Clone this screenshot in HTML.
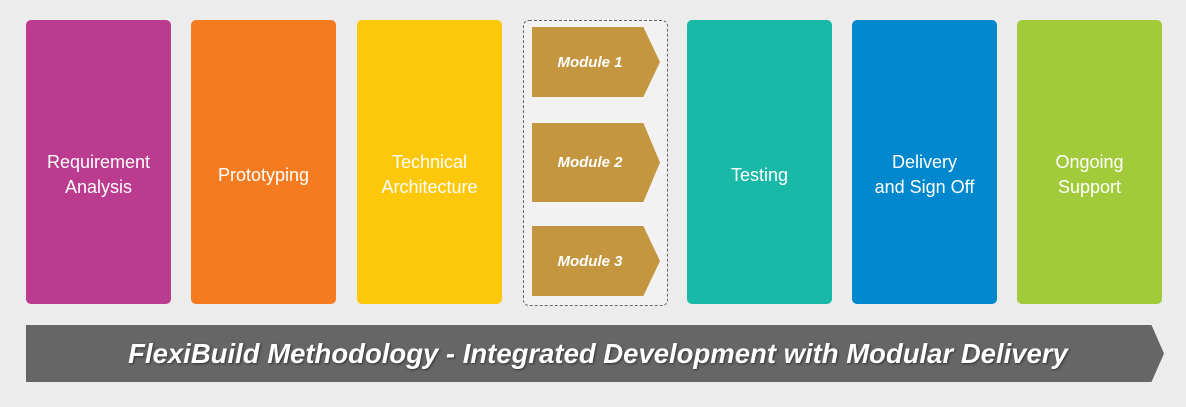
<!DOCTYPE html>
<html><head><style>
body{margin:0;width:1186px;height:407px;background:#ececec;position:relative;overflow:hidden;font-family:"Liberation Sans",sans-serif}
.c{position:absolute;top:20px;height:284px;width:145px;border-radius:5px;color:#fff;font-size:18px;display:flex;align-items:center;justify-content:center;text-align:center;line-height:25px;padding-top:26px;box-sizing:border-box}
.m{position:absolute;left:532px;width:128px;background:#c4963f;clip-path:polygon(0 0,87% 0,100% 50%,87% 100%,0 100%);color:#fff;font-style:italic;font-weight:bold;font-size:15px;display:flex;align-items:center;justify-content:center;padding-right:12px;box-sizing:border-box}
</style></head><body>
<div class="c" style="left:26px;background:#bb3b8e">Requirement<br>Analysis</div>
<div class="c" style="left:191px;background:#f47b20">Prototyping</div>
<div class="c" style="left:357px;background:#fdc70a">Technical<br>Architecture</div>
<div style="position:absolute;left:523px;top:20px;width:145px;height:286px;border:1.5px dashed #666;border-radius:6px;box-sizing:border-box;background:#f2f2f2"></div>
<div class="m" style="top:27px;height:70px">Module 1</div>
<div class="m" style="top:123px;height:79px">Module 2</div>
<div class="m" style="top:226px;height:70px">Module 3</div>
<div class="c" style="left:687px;background:#1ab8a7">Testing</div>
<div class="c" style="left:852px;background:#0088cf">Delivery<br>and Sign Off</div>
<div class="c" style="left:1017px;background:#a1cb3a">Ongoing<br>Support</div>
<div style="position:absolute;left:26px;top:325px;width:1138px;height:57px;background:#666;clip-path:polygon(0 0,98.9% 0,100% 50%,98.9% 100%,0 100%);color:#fff;font-style:italic;font-weight:bold;font-size:27.5px;display:flex;align-items:center;justify-content:center;text-shadow:1px 1px 2px #333;padding-left:6px;box-sizing:border-box">FlexiBuild Methodology - Integrated Development with Modular Delivery</div>
</body></html>
